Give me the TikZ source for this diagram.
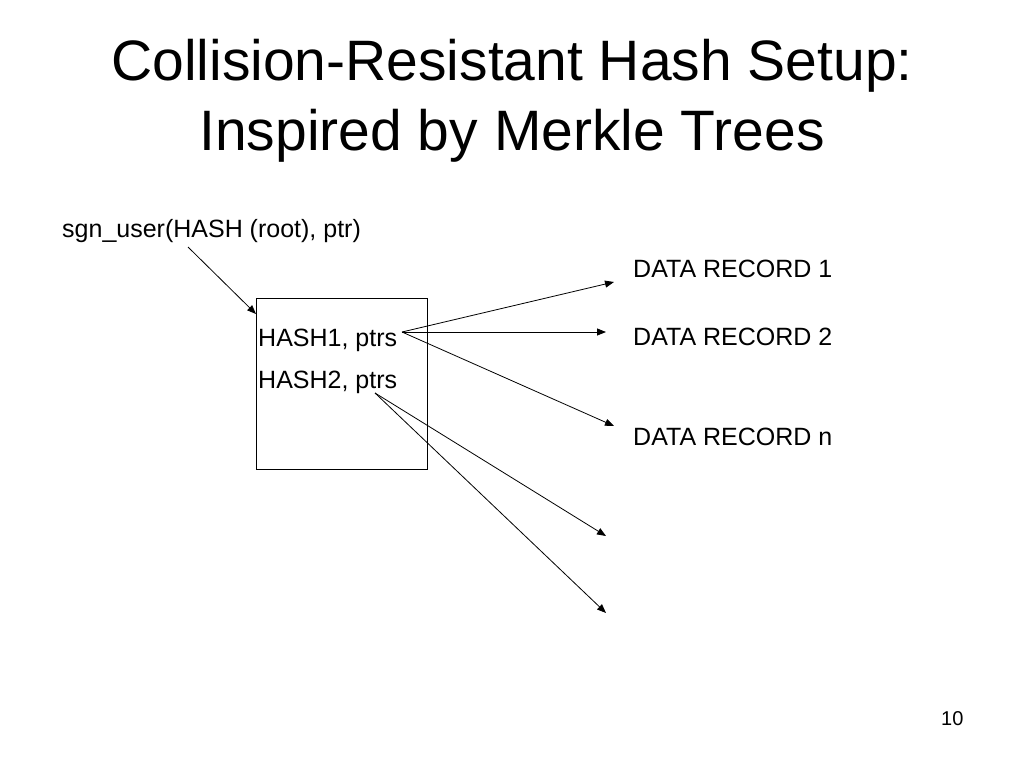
\documentclass[tikz,border=0pt]{standalone}
\usepackage{fontspec}
\setmainfont{Liberation Sans}
\usetikzlibrary{arrows.meta}

\begin{document}
\begin{tikzpicture}[x=1pt,y=-1pt, title/.style = {anchor=base, font=\fontsize{57}{64}\selectfont},
        txt/.style = {anchor=base west, inner sep=0pt, font=\fontsize{25}{30}\selectfont},
        ptr/.style = {-{Triangle[length=9pt,width=7pt]}, line width=0.8pt}]
        \useasboundingbox (0,0) rectangle (1024,768);

        \node[title] (t1) at (512,80) {Collision-Resistant Hash Setup:};
        \node[title] (t2) at (512,150) {Inspired by Merkle Trees};

        \node[txt] (sgn) at (62,237) {sgn\_user(HASH (root), ptr)};
        \node[draw, line width=0.8pt, minimum width=171pt, minimum height=171pt, anchor=north west] (box) at (256,298) {};
        \node[txt] (h1) at (258,346) {HASH1, ptrs};
        \node[txt] (h2) at (258,388) {HASH2, ptrs};

        \node[txt] (d1) at (633,277) {DATA RECORD 1};
        \node[txt] (d2) at (633,345) {DATA RECORD 2};
        \node[txt] (dn) at (633,445) {DATA RECORD n};

        \node[txt, font=\fontsize{20}{24}\selectfont] (pg) at (941,725) {10};

        \coordinate (s) at (188,247);
        \coordinate (p1) at (402,332);
        \coordinate (p2) at (375,393);
        \coordinate (e0) at (256,314);
        \coordinate (e1) at (614,282);
        \coordinate (e2) at (606,332);
        \coordinate (e3) at (614,426);
        \coordinate (e4) at (606,536);
        \coordinate (e5) at (606,613);

        \draw[ptr] (s) -- (e0);
        \draw[ptr] (p1) -- (e1);
        \draw[ptr] (p1) -- (e2);
        \draw[ptr] (p1) -- (e3);
        \draw[ptr] (p2) -- (e4);
        \draw[ptr] (p2) -- (e5);

    \end{tikzpicture}
\end{document}
